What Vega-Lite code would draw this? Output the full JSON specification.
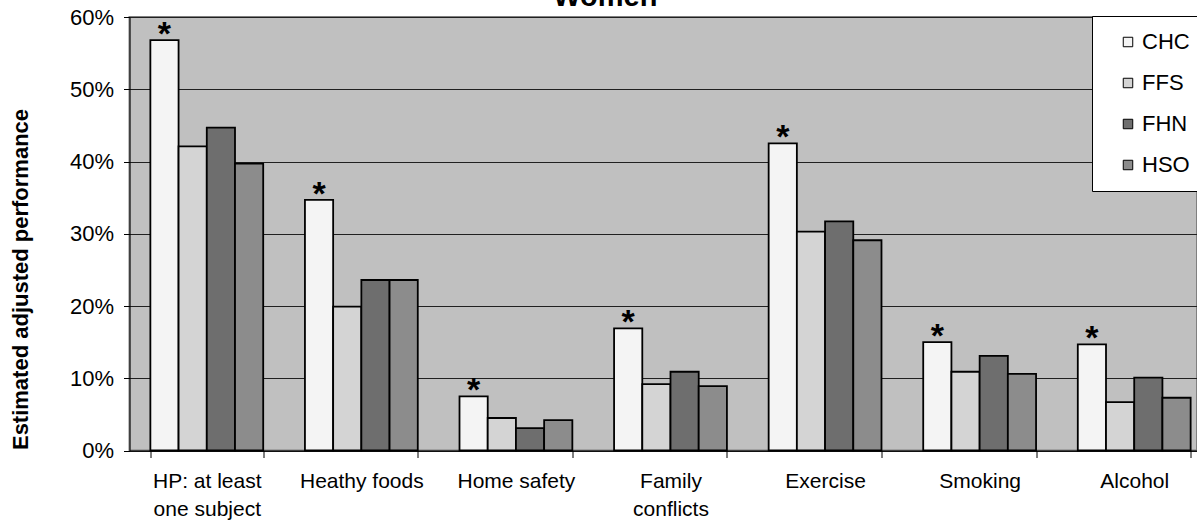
{
  "$schema": "https://vega.github.io/schema/vega-lite/v6.json",
  "width": 1067.5,
  "height": 433.5,
  "autosize": {"type": "none"},
  "padding": {"left": 129.5, "top": 17, "right": 0, "bottom": 71.5},
  "background": "white",
  "title": {
    "text": "Women",
    "fontSize": 29,
    "fontWeight": "bold",
    "color": "black",
    "anchor": "middle",
    "frame": "group",
    "baseline": "alphabetic",
    "offset": -29,
    "dx": -58
  },
  "config": {
    "font": "Liberation Sans",
    "view": {"fill": "#C0C0C0", "stroke": "#808080", "strokeWidth": 2}
  },
  "data": {
    "values": [
      {"category": "HP: at least one subject", "series": "CHC", "value": 56.8, "sig": "*"},
      {"category": "HP: at least one subject", "series": "FFS", "value": 42.1, "sig": ""},
      {"category": "HP: at least one subject", "series": "FHN", "value": 44.7, "sig": ""},
      {"category": "HP: at least one subject", "series": "HSO", "value": 39.7, "sig": ""},
      {"category": "Heathy foods", "series": "CHC", "value": 34.7, "sig": "*"},
      {"category": "Heathy foods", "series": "FFS", "value": 19.9, "sig": ""},
      {"category": "Heathy foods", "series": "FHN", "value": 23.6, "sig": ""},
      {"category": "Heathy foods", "series": "HSO", "value": 23.6, "sig": ""},
      {"category": "Home safety", "series": "CHC", "value": 7.5, "sig": "*"},
      {"category": "Home safety", "series": "FFS", "value": 4.5, "sig": ""},
      {"category": "Home safety", "series": "FHN", "value": 3.1, "sig": ""},
      {"category": "Home safety", "series": "HSO", "value": 4.2, "sig": ""},
      {"category": "Family conflicts", "series": "CHC", "value": 16.9, "sig": "*"},
      {"category": "Family conflicts", "series": "FFS", "value": 9.2, "sig": ""},
      {"category": "Family conflicts", "series": "FHN", "value": 10.9, "sig": ""},
      {"category": "Family conflicts", "series": "HSO", "value": 8.9, "sig": ""},
      {"category": "Exercise", "series": "CHC", "value": 42.5, "sig": "*"},
      {"category": "Exercise", "series": "FFS", "value": 30.3, "sig": ""},
      {"category": "Exercise", "series": "FHN", "value": 31.7, "sig": ""},
      {"category": "Exercise", "series": "HSO", "value": 29.1, "sig": ""},
      {"category": "Smoking", "series": "CHC", "value": 15.0, "sig": "*"},
      {"category": "Smoking", "series": "FFS", "value": 10.9, "sig": ""},
      {"category": "Smoking", "series": "FHN", "value": 13.1, "sig": ""},
      {"category": "Smoking", "series": "HSO", "value": 10.6, "sig": ""},
      {"category": "Alcohol", "series": "CHC", "value": 14.7, "sig": "*"},
      {"category": "Alcohol", "series": "FFS", "value": 6.7, "sig": ""},
      {"category": "Alcohol", "series": "FHN", "value": 10.1, "sig": ""},
      {"category": "Alcohol", "series": "HSO", "value": 7.3, "sig": ""}
    ]
  },
  "encoding": {
    "x": {
      "field": "category",
      "type": "nominal",
      "sort": ["HP: at least one subject", "Heathy foods", "Home safety", "Family conflicts", "Exercise", "Smoking", "Alcohol"],
      "scale": {"range": [0, 1082], "paddingInner": 0.27, "paddingOuter": 0.135},
      "axis": {
        "title": null,
        "tickBand": "extent",
        "tickSize": 7,
        "tickColor": "black",
        "domainColor": "black",
        "domainWidth": 1,
        "labelAngle": 0,
        "labelFontSize": 21,
        "labelColor": "black",
        "labelPadding": 13,
        "labelBaseline": "top",
        "labelLineHeight": 28,
        "labelLimit": 0,
        "grid": false,
        "labelExpr": "datum.value == 'HP: at least one subject' ? ['HP: at least', 'one subject'] : datum.value == 'Family conflicts' ? ['Family', 'conflicts'] : datum.value"
      }
    },
    "xOffset": {"field": "series", "type": "nominal", "scale": {"domain": ["CHC", "FFS", "FHN", "HSO"]}},
    "y": {
      "field": "value",
      "type": "quantitative",
      "scale": {"domain": [0, 60], "nice": false},
      "axis": {
        "values": [0, 10, 20, 30, 40, 50, 60],
        "labelExpr": "datum.value + '%'",
        "labelFontSize": 22,
        "labelColor": "black",
        "tickSize": 6,
        "tickColor": "black",
        "labelPadding": 10,
        "domainColor": "black",
        "grid": true,
        "gridColor": "#202020",
        "gridWidth": 1,
        "title": "Estimated adjusted performance",
        "titleFontSize": 22,
        "titleFontWeight": "bold",
        "titleColor": "black",
        "titleAngle": 270,
        "titleAlign": "center",
        "titleBaseline": "bottom",
        "titleX": -97,
        "titleY": 262
      }
    }
  },
  "layer": [
    {
      "mark": {"type": "bar", "stroke": "black", "strokeWidth": 1.8},
      "encoding": {
        "fill": {
          "field": "series",
          "type": "nominal",
          "scale": {"domain": ["CHC", "FFS", "FHN", "HSO"], "range": ["#f4f4f4", "#d4d4d4", "#6e6e6e", "#8c8c8c"]},
          "legend": {
            "title": null,
            "orient": "none",
            "legendX": 962.5,
            "legendY": -1,
            "direction": "vertical",
            "fillColor": "white",
            "strokeColor": "black",
            "padding": 15,
            "symbolType": "square",
            "symbolSize": 90,
            "symbolStrokeColor": "black",
            "symbolStrokeWidth": 1,
            "symbolOffset": 10,
            "labelFontSize": 22,
            "labelColor": "black",
            "labelOffset": 3,
            "rowPadding": 19
          }
        }
      }
    },
    {
      "transform": [{"filter": "datum.sig == '*'"}],
      "mark": {"type": "text", "fontSize": 34, "fontWeight": "bold", "color": "black", "baseline": "alphabetic", "align": "center", "dy": 5},
      "encoding": {
        "text": {"field": "sig"}
      }
    }
  ]
}
